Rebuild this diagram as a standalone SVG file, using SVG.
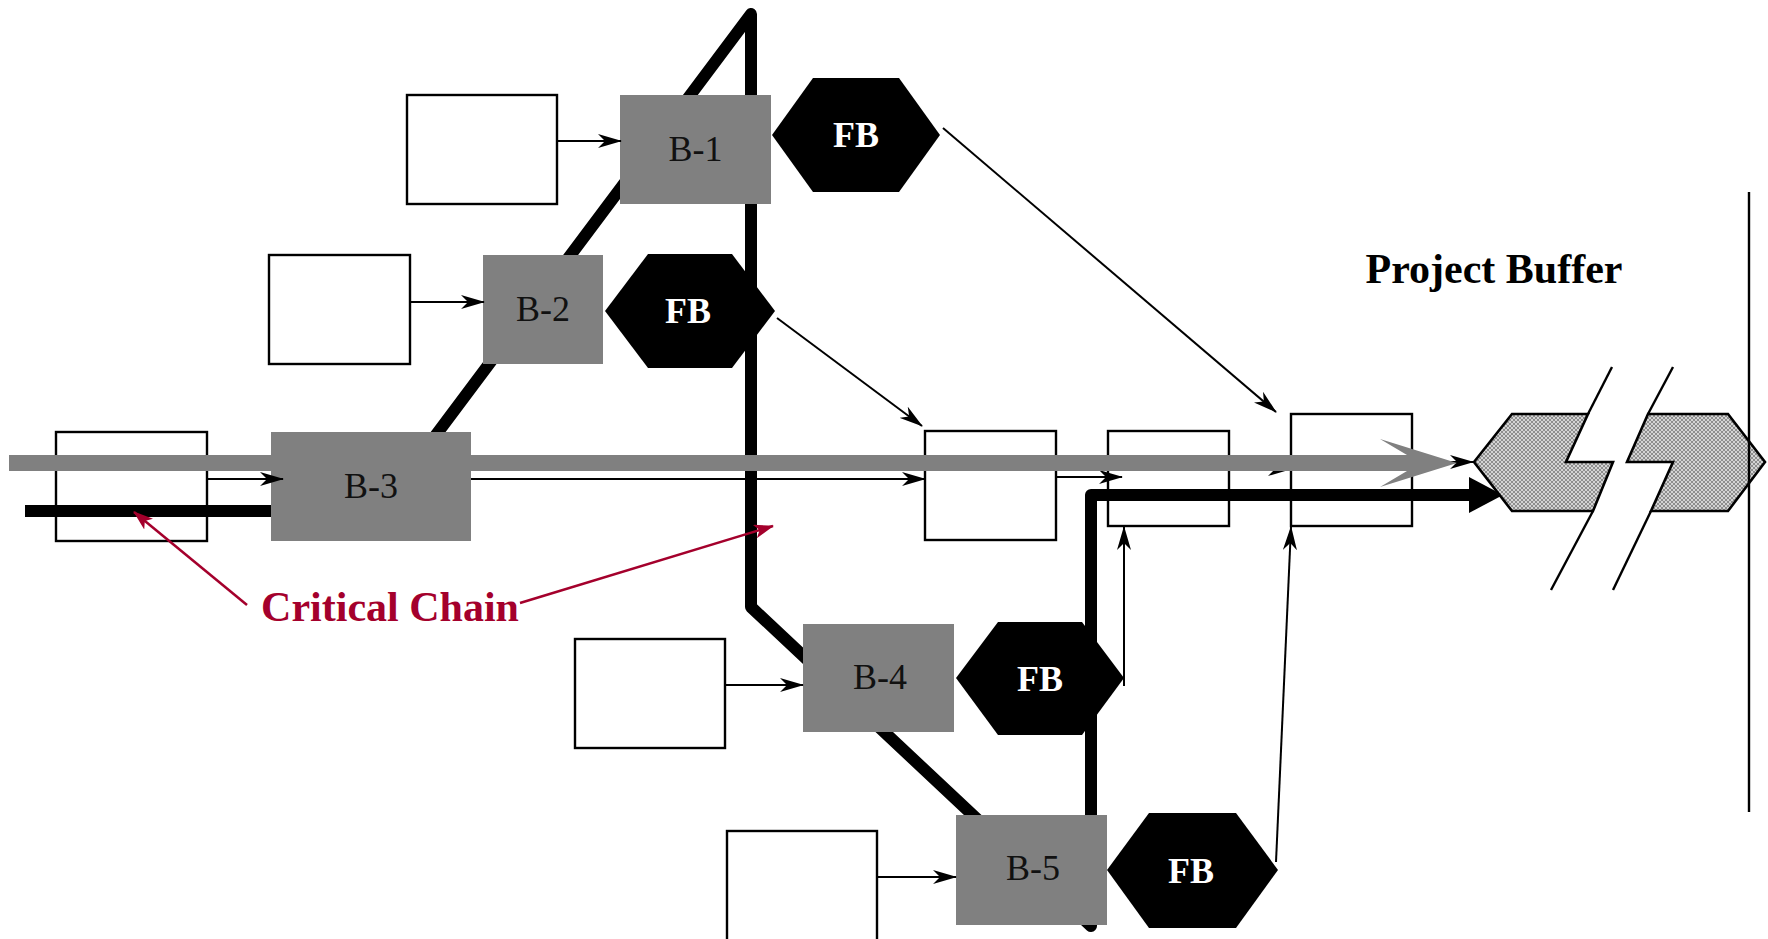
<svg xmlns="http://www.w3.org/2000/svg" width="1768" height="939" viewBox="0 0 1768 939">
  <defs>
    <style>
      .box{fill:#fff;stroke:#000;stroke-width:2.4}
      .task{fill:#808080}
      .fb{fill:#000}
      .tl{font-family:"Liberation Serif","Times New Roman",serif;font-size:36px;fill:#111;text-anchor:middle}
      .fbt{font-family:"Liberation Serif","Times New Roman",serif;font-size:36px;font-weight:bold;fill:#fff;text-anchor:middle}
      .thin{fill:none;stroke:#000;stroke-width:2;marker-end:url(#ah)}
      .red{fill:none;stroke:#a4002c;stroke-width:2.5;marker-end:url(#ahr)}
      .slash{fill:none;stroke:#000;stroke-width:2.4}
      .pb{fill:url(#hatch);stroke:#000;stroke-width:2.6;stroke-linejoin:miter}
    </style>
    <marker id="ah" markerUnits="userSpaceOnUse" markerWidth="24" markerHeight="14" viewBox="0 0 24 14" refX="23" refY="7" orient="auto">
      <path d="M0,0 L24,7 L0,14 L7,7 z" fill="#000"/>
    </marker>
    <marker id="ahr" markerUnits="userSpaceOnUse" markerWidth="20" markerHeight="14" viewBox="0 0 20 14" refX="19" refY="7" orient="auto">
      <path d="M0,0 L20,7 L0,14 L5,7 z" fill="#a4002c"/>
    </marker>
    <pattern id="hatch" width="4" height="4" patternUnits="userSpaceOnUse">
      <rect width="4" height="4" fill="#8e8e8e"/>
      <path d="M0,0 L4,4 M4,0 L0,4" stroke="#e6e6e6" stroke-width="0.8"/>
    </pattern>
  </defs>

  <!-- feeding and chain task boxes (empty) -->
  <g id="e0"><rect class="box" x="56" y="432" width="151" height="109"/></g>
  <g id="e1"><rect class="box" x="407" y="95" width="150" height="109"/></g>
  <g id="e2"><rect class="box" x="269" y="255" width="141" height="109"/></g>
  <g id="e4"><rect class="box" x="575" y="639" width="150" height="109"/></g>
  <g id="e5"><rect class="box" x="727" y="831" width="150" height="120"/></g>
  <g id="box3"><rect class="box" x="925" y="431" width="131" height="109"/></g>
  <g id="box4"><rect class="box" x="1108" y="431" width="121" height="95"/></g>
  <g id="box5"><rect class="box" x="1291" y="414" width="121" height="112"/></g>

  <!-- resource path (thick black) -->
  <g id="resource-path">
    <path d="M25,511 L379,511 L751,14 L751,607 L1091,926 L1091,495 L1472,495" fill="none" stroke="#000" stroke-width="12" stroke-linejoin="round"/>
    <polygon points="1469,477 1503,495 1469,513" fill="#000"/>
  </g>

  <!-- resource-bound tasks -->
  <g id="b1"><rect class="task" x="620" y="95" width="151" height="109"/><text class="tl" x="695.5" y="161">B-1</text></g>
  <g id="b2"><rect class="task" x="483" y="255" width="120" height="109"/><text class="tl" x="543" y="321">B-2</text></g>
  <g id="b3"><rect class="task" x="271" y="432" width="200" height="109"/><text class="tl" x="371" y="498">B-3</text></g>
  <g id="b4"><rect class="task" x="803" y="624" width="151" height="108"/><text class="tl" x="880" y="689">B-4</text></g>
  <g id="b5"><rect class="task" x="956" y="815" width="151" height="110"/><text class="tl" x="1033" y="880">B-5</text></g>

  <!-- feeding buffers -->
  <g id="fb1"><polygon class="fb" points="772,135 813,78 899,78 940,135 899,192 813,192"/><text class="fbt" x="856" y="147">FB</text></g>
  <g id="fb2"><polygon class="fb" points="605,311 648,254 732,254 775,311 732,368 648,368"/><text class="fbt" x="688" y="323">FB</text></g>
  <g id="fb4"><polygon class="fb" points="956,678 998,622 1082,622 1124,678 1082,735 998,735"/><text class="fbt" x="1040" y="691">FB</text></g>
  <g id="fb5"><polygon class="fb" points="1107,870 1149,813 1236,813 1278,870 1236,928 1149,928"/><text class="fbt" x="1191" y="883">FB</text></g>

  <!-- precedence links and the critical chain -->
  <g id="connectors">
    <line class="thin" x1="557" y1="141" x2="621" y2="141"/>
    <line class="thin" x1="410" y1="302" x2="484" y2="302"/>
    <line class="thin" x1="207" y1="479" x2="283" y2="479"/>
    <line class="thin" x1="725" y1="685" x2="803" y2="685"/>
    <line class="thin" x1="877" y1="877" x2="956" y2="877"/>
    <line class="thin" x1="471" y1="479" x2="925" y2="479"/>
    <line class="thin" x1="1056" y1="477" x2="1122" y2="477"/>
    <line class="thin" x1="1229" y1="469" x2="1291" y2="469"/>
    <line class="thin" x1="1412" y1="462" x2="1473" y2="462"/>
    <line class="thin" x1="943" y1="128" x2="1276" y2="412"/>
    <line class="thin" x1="777" y1="318" x2="922" y2="426"/>
    <line class="thin" x1="1124" y1="686" x2="1124" y2="527"/>
    <line class="thin" x1="1276" y1="862" x2="1291" y2="527"/>
    <polygon id="critical-chain" points="9,455 1407,455 1380,439 1457,463 1380,487 1407,471 9,471" fill="#808080"/>
  </g>

  <!-- project buffer with break -->
  <g id="project-buffer">
    <polygon class="pb" points="1474,462 1512,414 1588,414 1566,462 1613,462 1593,511 1512,511"/>
    <polygon class="pb" points="1648,414 1728,414 1765,462 1728,511 1651,511 1673,462 1627,462"/>
    <polyline class="slash" points="1612,367 1588,414"/>
    <polyline class="slash" points="1593,511 1551,590"/>
    <polyline class="slash" points="1673,367 1648,414"/>
    <polyline class="slash" points="1651,511 1613,590"/>
    <text x="1494" y="283" font-family="'Liberation Serif','Times New Roman',serif" font-size="42" font-weight="bold" text-anchor="middle" fill="#000">Project Buffer</text>
  </g>

  <!-- project end line -->
  <line x1="1749" y1="192" x2="1749" y2="812" stroke="#000" stroke-width="2.4"/>

  <!-- critical chain label -->
  <g id="critical-chain-label">
    <text x="390" y="621" font-family="'Liberation Serif','Times New Roman',serif" font-size="42" font-weight="bold" text-anchor="middle" fill="#a4002c">Critical Chain</text>
    <line class="red" x1="247" y1="605" x2="134" y2="512"/>
    <line class="red" x1="520" y1="603" x2="773" y2="526"/>
  </g>
</svg>
